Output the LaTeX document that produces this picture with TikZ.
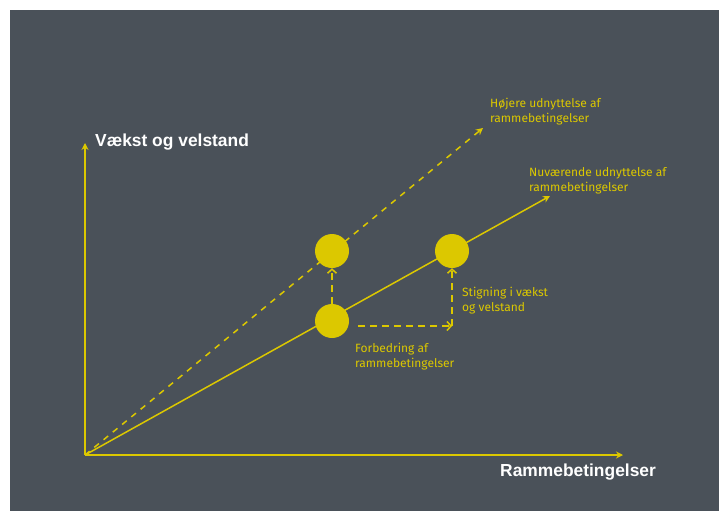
\documentclass[tikz,border=0pt]{standalone}
\usepackage{fontspec}
\setmainfont{Fira Sans}
\newfontfamily\headfont{Liberation Sans}
\usetikzlibrary{arrows.meta}
\definecolor{eyyellow}{RGB}{220,200,0}
\definecolor{eygrey}{RGB}{74,81,89}
\begin{document}
\begin{tikzpicture}
[x=1pt,y=-1pt,
  dotdecorate/.style={shape=circle,fill=eyyellow,minimum size=34pt,inner sep=0pt},%
  axisdecorate/.style={-{Stealth[length=7pt,width=7pt]},eyyellow,line width=2pt},%
  growthdecorate/.style={-{Stealth[length=7pt,width=7pt]},eyyellow,line width=1.5pt},%
  shiftdecorate/.style={-{Straight Barb[length=4pt,width=9pt]},eyyellow,line width=1.5pt,dash pattern=on 7pt off 5pt},%
  smalllabel/.style={anchor=base west,align=left,inner sep=0pt,text=eyyellow,font=\fontsize{12}{14.5}\selectfont},%
  axislabel/.style={anchor=base west,inner sep=0pt,text=white,font=\headfont\bfseries\fontsize{17.4}{20}\selectfont}]
\useasboundingbox (0,0) rectangle (719,511);
\fill[eygrey] (10,10) rectangle (719,511);
%% axes
\coordinate (origin) at (85,455);
\coordinate (ytip) at (85,143);
\coordinate (xtip) at (623,455);
\coordinate (hightip) at (483,128);
\coordinate (nowtip) at (550,196);
\draw[axisdecorate] (origin) -- (ytip);
\draw[axisdecorate] (origin) -- (xtip);
\draw[growthdecorate,dash pattern=on 6pt off 6pt] (origin) -- (hightip);
\draw[growthdecorate] (origin) -- (nowtip);
%% circles
\foreach \nodename/\x/\y in {before/332/321, higher/332/251, after/452/251} {
  \node (\nodename) at (\x,\y) [dotdecorate] {};
}
%% shifts
\coordinate (start) at (358,326);
\coordinate (corner) at (452,326);
\draw[shiftdecorate] (before.north) -- (higher.south);
\draw[shiftdecorate] (start) -- (corner);
\draw[shiftdecorate] (corner) -- (after.south);
%% labels (base = last line)
\node (yname) at (95,146) [axislabel] {Vækst og velstand};
\node (xname) at (500,476) [axislabel] {Rammebetingelser};
\foreach \nodename/\x/\y/\words in {highname/490/122/{Højere udnyttelse af\\rammebetingelser},
  nowname/529/191/{Nuværende udnyttelse af\\rammebetingelser},
  risename/462/311/{Stigning i vækst\\og velstand},
  bettername/355/367/{Forbedring af\\rammebetingelser}} {
  \node (\nodename) at (\x,\y) [smalllabel] {\words};
}
\end{tikzpicture}
\end{document}
